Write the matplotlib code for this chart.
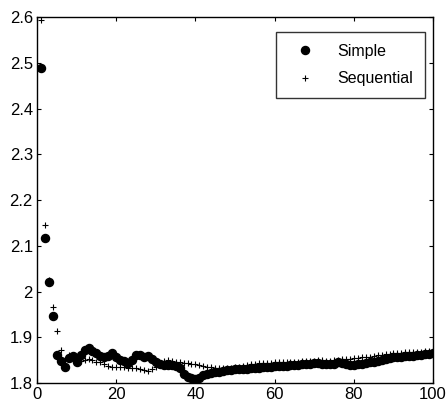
import matplotlib
matplotlib.use("Agg")
import matplotlib.pyplot as plt
import numpy as np

plt.rcParams['font.family'] = ['Liberation Sans', 'DejaVu Sans']

iterations = list(range(1, 101))

simple = [2.489, 2.118, 2.020, 1.947, 1.862, 1.848, 1.836, 1.855, 1.860, 1.845,
          1.862, 1.872, 1.876, 1.870, 1.865, 1.860, 1.857, 1.860, 1.866, 1.858,
          1.851, 1.848, 1.843, 1.850, 1.861, 1.862, 1.858, 1.859, 1.852, 1.847,
          1.842, 1.840, 1.840, 1.840, 1.838, 1.832, 1.820, 1.813, 1.810, 1.808,
          1.812, 1.817, 1.820, 1.822, 1.824, 1.825, 1.827, 1.828, 1.829, 1.830,
          1.831, 1.831, 1.830, 1.832, 1.832, 1.833, 1.834, 1.835, 1.836, 1.837,
          1.837, 1.838, 1.838, 1.839, 1.840, 1.840, 1.841, 1.842, 1.842, 1.843,
          1.843, 1.842, 1.841, 1.841, 1.842, 1.845, 1.844, 1.842, 1.840, 1.840,
          1.841, 1.842, 1.843, 1.845, 1.846, 1.848, 1.850, 1.852, 1.854, 1.856,
          1.857, 1.858, 1.859, 1.860, 1.860, 1.861, 1.862, 1.863, 1.864, 1.865]

sequential = [2.594, 2.145, 2.026, 1.966, 1.913, 1.872, 1.850, 1.862, 1.855, 1.850,
              1.848, 1.851, 1.853, 1.850, 1.846, 1.845, 1.842, 1.838, 1.836, 1.835,
              1.836, 1.834, 1.833, 1.832, 1.832, 1.830, 1.828, 1.826, 1.830, 1.836,
              1.842, 1.848, 1.850, 1.848, 1.847, 1.846, 1.844, 1.843, 1.842, 1.841,
              1.840, 1.838, 1.836, 1.834, 1.833, 1.832, 1.832, 1.832, 1.833, 1.835,
              1.836, 1.838, 1.840, 1.841, 1.842, 1.843, 1.843, 1.844, 1.844, 1.845,
              1.845, 1.846, 1.846, 1.846, 1.847, 1.847, 1.848, 1.848, 1.849, 1.849,
              1.850, 1.850, 1.849, 1.849, 1.850, 1.850, 1.852, 1.853, 1.853, 1.854,
              1.855, 1.856, 1.857, 1.858, 1.860, 1.861, 1.862, 1.863, 1.864, 1.865,
              1.866, 1.866, 1.867, 1.867, 1.868, 1.868, 1.868, 1.869, 1.869, 1.869]

xticks = [0, 20, 40, 60, 80, 100]
yticks = [1.8, 1.9, 2.0, 2.1, 2.2, 2.3, 2.4, 2.5, 2.6]
yticklabels = ['1.8', '1.9', '2', '2.1', '2.2', '2.3', '2.4', '2.5', '2.6']

fig = plt.figure(figsize=(4.46, 4.15), dpi=100)
ax = fig.add_axes([0.083, 0.077, 0.888, 0.882])

ax.plot(iterations, simple, linestyle='none', marker='o', markersize=5.8,
        color='black', label='Simple')
ax.plot(iterations, sequential, linestyle='none', marker='+', markersize=5,
        markeredgewidth=0.8, color='black', label='Sequential')

ax.set_xlim(0, 100)
ax.set_ylim(1.8, 2.6)
ax.set_xticks(xticks)
ax.set_yticks(yticks)
ax.set_yticklabels(yticklabels)
ax.tick_params(direction='in', length=3, width=0.8, top=True, right=True,
               labelsize=12, pad=3)
for s in ax.spines.values():
    s.set_linewidth(1.0)

leg = ax.legend(loc='upper right', bbox_to_anchor=(0.98, 0.96), frameon=True,
                fancybox=False, edgecolor='black', fontsize=11.5,
                handlelength=2.2, handletextpad=0.9, borderpad=0.75,
                labelspacing=0.8, borderaxespad=0)
leg.get_frame().set_linewidth(1.0)

fig.savefig('out.png', dpi=100)
